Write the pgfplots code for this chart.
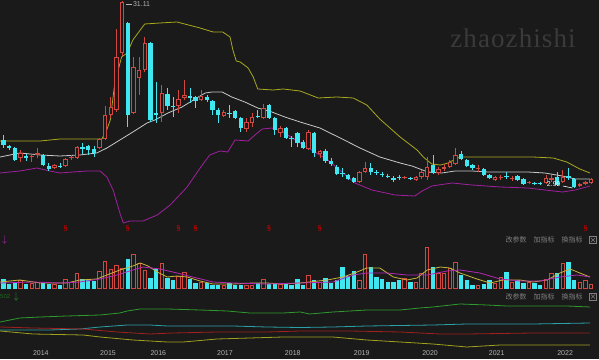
\documentclass[border=0pt]{standalone}
\usepackage{pgfplots}
\pgfplotsset{compat=1.18}
\usepackage{pgfplotstable}
\usepackage{fontspec}
\setmainfont{Liberation Sans}
\newfontfamily\wmfont{Liberation Serif}[LetterSpace=4]
\newfontfamily\cjk{Noto Sans CJK SC}
\definecolor{bg}{HTML}{1A1A1A}
\definecolor{kred}{HTML}{D04840}
\definecolor{kcyan}{HTML}{40E6F0}
\definecolor{bollup}{HTML}{A8A820}
\definecolor{bollmid}{HTML}{C8C8C8}
\definecolor{bolllo}{HTML}{A020A0}
\definecolor{vma1}{HTML}{C8B43C}
\definecolor{vma2}{HTML}{B428B4}
\definecolor{ig}{HTML}{2E9A2E}
\definecolor{ic}{HTML}{2AA0A8}
\definecolor{ir}{HTML}{A02020}
\definecolor{iy}{HTML}{A0A020}
\definecolor{divred}{HTML}{C00000}
\definecolor{ticktxt}{HTML}{B4B4B4}
\definecolor{menugray}{HTML}{808080}
\definecolor{wmgray}{HTML}{3A3A3A}

% candles: index, open, high, low, close (rising months)
\pgfplotstableread{
i o h l c
-1 9.15 10.5 9.0 10.05
3 7.5 8.7 6.9 8.25
5 7.65 8.1 6.9 7.8
6 7.95 9.0 7.5 8.25
9 6.0 6.6 5.85 6.45
11 6.3 7.5 6.15 7.35
12 7.5 7.95 7.2 7.65
13 7.5 9.3 7.35 9.15
17 9.0 10.5 8.85 10.35
18 10.35 15.3 10.2 13.95
19 13.95 16.65 13.5 15.15
20 14.7 26.85 14.4 22.65
21 23.25 31.11 22.8 30.9
23 14.25 22.65 14.1 21.15
24 19.5 22.65 16.95 20.7
25 20.7 25.65 20.4 24.75
28 14.25 18.45 12.9 17.25
31 15.3 17.7 14.25 16.35
32 16.5 19.2 16.2 16.95
35 16.2 17.7 16.05 16.8
39 13.8 14.7 13.65 14.4
43 11.85 13.5 11.4 12.9
44 12.75 14.25 12.15 13.65
46 13.5 15.6 13.35 15.0
49 11.25 12.3 10.65 12.0
54 8.85 11.7 8.7 11.4
56 8.1 8.7 7.5 8.55
63 3.9 5.55 3.75 5.4
64 5.4 6.9 5.25 6.0
71 4.5 4.8 4.35 4.65
73 4.2 4.8 4.05 4.65
74 4.65 5.7 4.35 5.4
75 4.65 7.65 4.2 6.15
77 5.25 6.15 4.95 5.85
78 5.85 6.6 5.55 6.15
79 6.15 7.2 6.0 6.9
80 6.6 9.0 6.45 7.95
84 5.85 6.45 5.4 6.0
87 4.2 4.8 4.05 4.65
88 4.5 4.95 4.2 4.65
90 4.35 4.8 4.05 4.5
93 3.75 4.05 3.6 3.9
96 3.75 4.95 3.6 4.5
97 4.2 4.95 3.9 4.5
99 3.9 5.7 3.75 4.65
102 3.3 3.75 3.15 3.6
103 3.6 4.05 3.45 3.9
104 3.75 4.5 3.6 4.35
}\upK

% falling months
\pgfplotstableread{
i o h l c
0 10.2 10.95 9.0 9.45
1 9.3 9.45 8.7 9.0
2 9.0 9.15 7.05 7.2
4 7.8 8.1 7.05 7.5
7 7.95 8.1 6.3 6.45
8 6.3 6.75 5.55 5.85
10 6.3 6.75 6.0 6.15
14 9.15 9.75 8.1 8.85
15 9.3 9.45 7.95 8.7
16 8.85 9.3 7.65 8.25
22 27.75 27.9 12.15 13.95
26 24.75 24.9 12.9 13.2
27 14.25 18.9 12.75 13.95
29 17.1 18.0 14.7 15.3
30 15.3 16.65 13.65 15.15
33 16.8 18.0 15.75 16.5
34 16.65 16.8 15.0 16.05
36 16.65 16.95 15.9 16.2
37 16.05 16.2 13.95 14.7
38 14.7 15.0 12.75 13.95
40 14.25 15.45 13.5 14.1
41 14.55 14.7 13.35 13.5
42 13.5 13.65 11.4 12.0
45 13.8 14.7 13.5 13.65
47 15.45 15.6 13.35 13.5
48 13.5 13.65 10.95 11.7
50 12.0 12.15 10.35 10.5
51 10.5 10.8 9.15 10.35
52 11.25 11.4 9.15 9.75
53 9.9 10.2 8.85 9.0
55 11.25 11.4 7.65 8.25
57 8.55 8.85 6.75 7.05
58 7.05 7.5 6.3 6.6
59 6.15 6.45 4.95 5.1
60 5.25 6.0 4.65 5.1
61 4.95 5.1 4.2 4.35
62 4.5 4.65 3.75 3.9
65 6.0 6.75 4.95 5.4
66 5.4 5.7 4.95 5.25
67 5.1 5.4 4.65 4.95
68 4.8 5.1 4.5 4.65
69 4.5 4.8 3.9 4.2
70 4.65 4.95 4.2 4.5
72 4.5 4.65 4.2 4.35
76 6.45 7.95 5.1 5.25
81 8.1 8.55 7.2 7.35
82 7.2 7.35 6.15 6.3
83 6.45 6.6 5.7 6.0
85 5.85 6.0 4.8 4.95
86 4.95 5.1 4.35 4.5
89 4.8 5.4 4.35 4.65
91 4.8 4.95 4.05 4.2
92 4.35 4.5 3.45 3.6
94 3.75 3.9 3.45 3.6
95 3.75 3.9 3.45 3.6
98 4.65 5.4 3.3 3.45
100 4.8 6.0 4.2 4.5
101 4.35 4.5 2.99 3.15
}\dnK

\pgfplotstableread{
i v
3 8.5
5 5.5
6 6.5
9 4.5
11 9.5
12 6.5
13 15.5
17 17.5
18 27.5
19 19.5
20 23.5
21 20.5
23 34.5
24 25.5
25 18.5
28 25.5
31 12.5
32 16.5
35 6.5
39 3.5
43 3.5
44 3.5
46 9.5
49 4.5
54 13.5
56 6.5
63 8.5
64 34.5
71 10.5
73 6.5
74 15.5
75 41.5
77 15.5
78 15.5
79 20.5
80 26.5
84 3.5
87 5.5
88 11.5
90 6.5
93 6.5
96 9.5
97 15.5
99 25.5
102 6.5
103 8.5
104 4.5
}\volUp

\pgfplotstableread{
i v
0 9.5
1 4.5
2 6.5
4 4.5
7 5.5
8 4.5
10 3.5
14 9.5
15 8.5
16 7.5
22 29.5
26 10.5
27 19.5
29 10.5
30 8.5
33 9.5
34 5.5
36 5.5
37 3.5
38 3.5
40 5.5
41 3.5
42 3.5
45 5.5
47 4.5
48 4.5
50 4.5
51 3.5
52 9.5
53 3.5
55 8.5
57 10.5
58 5.5
59 8.5
60 21.5
61 12.5
62 17.5
65 21.5
66 11.5
67 9.5
68 6.5
69 6.5
70 8.5
72 6.5
76 21.5
81 13.5
82 8.5
83 3.5
85 4.5
86 8.5
89 16.5
91 8.5
92 5.5
94 5.5
95 3.5
98 15.5
100 26.5
101 8.5
}\volDn

\pgfplotsset{panel/.style={scale only axis, width=599pt, xmin=-0.62, xmax=105.4, anchor=south west}}

\begin{document}
\begin{tikzpicture}
\useasboundingbox (0,0) rectangle (599pt,359pt);
\fill[bg] (0,0) rectangle (599pt,359pt);
\node[text=wmgray, font=\wmfont\fontsize{27}{27}\selectfont, inner sep=0pt] at (513pt,321pt) {zhaozhishi};

% ---------------- main panel ----------------
\begin{axis}[panel, at={(0pt,127pt)}, height=232pt, ymin=-3.6, ymax=31.2, hide axis]
\addplot[bollup, line width=0.8pt] coordinates {(-0.6,10.05) (6.5,10.05) (10,10.35) (17.4,10.35) (18.2,11.55) (18.9,13.2) (19.7,18.75) (20.9,22.65) (21.9,23.25) (22.9,25.2) (24.2,26.7) (25,27.6) (27.7,27.75) (30.7,27.9) (34.8,27.0) (37.1,26.4) (38.8,26.4) (40.1,25.65) (40.6,23.7) (41.2,22.05) (41.9,21.9) (43.3,21.0) (44.2,19.65) (45,17.85) (47.7,17.7) (49.5,17.85) (52.5,17.55) (55.7,16.5) (59,16.65) (61.9,16.5) (64.3,15.45) (66.6,13.35) (70.2,10.65) (73.2,8.7) (74.3,7.65) (75.8,6.6) (77.3,6.45) (78.7,6.75) (80.3,7.5) (81.3,7.65) (87.9,7.65) (93.7,7.65) (97.3,7.5) (99.7,6.9) (102,5.85) (103.8,5.25)};
\addplot[bollmid, line width=0.8pt] coordinates {(-0.6,7.65) (2.9,8.25) (6.5,7.95) (10,7.8) (13.5,7.95) (16.5,8.25) (18.3,9.0) (20.6,10.2) (22.9,11.4) (25.4,12.75) (26.8,13.2) (29.1,14.25) (31.6,15.15) (33.9,16.35) (35.7,17.25) (36.9,17.4) (38.7,17.4) (40.4,16.65) (42.7,15.9) (45,15.0) (47.5,14.4) (49.8,13.65) (52.5,12.9) (56,12.0) (59.6,10.5) (63.1,9.0) (66.6,7.65) (70.2,6.75) (72.3,6.3) (75.1,5.4) (77.6,5.25) (79.9,5.55) (82.9,5.55) (85.8,5.4) (87.9,5.4) (92.8,5.4) (95.8,5.25) (98.9,4.8) (101.2,4.35) (103.8,4.35)};
\addplot[bolllo, line width=0.8pt] coordinates {(-0.6,5.25) (2.9,5.55) (5.9,6.0) (8.2,5.55) (10,5.25) (12.3,5.4) (14.8,5.55) (17.1,5.55) (18.3,4.65) (19.4,2.7) (20.6,-0.75) (21.2,-2.25) (22.4,-1.95) (24.7,-1.95) (27.2,-1.05) (29.5,0.45) (32.5,3.15) (34.8,6.0) (36.5,7.95) (38.3,8.55) (39.7,8.4) (40.97,10.2) (43.3,10.05) (44.5,10.95) (45.8,11.85) (47.5,12.0) (49.3,11.55) (51.1,10.5) (52.5,9.75) (55.1,8.4) (57.4,7.2) (59.9,5.4) (62.2,3.75) (65.2,2.7) (69.3,1.95) (72.8,1.8) (74.1,2.55) (75.8,3.3) (79.4,3.75) (82.9,3.45) (87.9,3.15) (92.8,3.0) (98.9,2.4) (101.2,2.7) (103.8,3.3)};
% wicks
\addplot[kred, line width=0.8pt, quiver={u=0,v=\thisrow{h}-\thisrow{l}}] table[x=i,y=l]{\upK};
\addplot[kcyan, line width=0.8pt, quiver={u=0,v=\thisrow{h}-\thisrow{l}}] table[x=i,y=l]{\dnK};
% bodies
\addplot[kred, line width=4.4pt, quiver={u=0,v=\thisrow{c}-\thisrow{o}}] table[x=i,y=o]{\upK};
\addplot[bg, line width=2.4pt, quiver={u=0,v={max(\thisrow{c}-\thisrow{o}-0.3,0)}}] table[x=i,y expr=\thisrow{o}+0.15]{\upK};
\addplot[kcyan, line width=4.4pt, quiver={u=0,v=\thisrow{o}-\thisrow{c}}] table[x=i,y=c]{\dnK};
% dividend markers
\addplot[divred, only marks, mark=text, text mark={\S}, text mark as node=true, text mark style={font=\fontsize{7}{7}\selectfont\bfseries}] coordinates {(11,-3) (22,-3) (31,-3) (34,-3) (47,-3) (56,-3) (103,-3)};
\draw[ticktxt, line width=0.5pt] (axis cs:21.6,30.6) -- (axis cs:22.8,30.6);
\node[text=ticktxt, font=\fontsize{7}{7}\selectfont, anchor=west, inner sep=0pt] at (axis cs:22.9,30.6) {31.11};
\node[text=white, font=\fontsize{7}{7}\selectfont, inner sep=0pt] at (axis cs:97.4,3.6) {2.99};
\draw[white, line width=0.6pt] (axis cs:99.0,3.3) -- (axis cs:100.7,3.0);
\end{axis}

% ---------------- volume panel ----------------
\begin{axis}[panel, at={(0pt,70pt)}, height=56pt, ymin=-0.5, ymax=55.5, hide axis]
\addplot[kred, line width=4.4pt, quiver={u=0,v=\thisrow{v}}] table[x=i,y expr=0]{\volUp};
\addplot[bg, line width=2.4pt, quiver={u=0,v={max(\thisrow{v}-2,0)}}] table[x=i,y expr=1]{\volUp};
\addplot[kcyan, line width=4.4pt, quiver={u=0,v=\thisrow{v}}] table[x=i,y expr=0]{\volDn};
\addplot[vma1, line width=0.8pt] coordinates {(-0.6,6.5) (2.9,8.5) (6.5,5.5) (11.2,5.5) (13.5,8.5) (16.5,9.5) (18.3,13.5) (20.6,18.5) (22.9,22.5) (24.2,25.5) (25.6,22.5) (27.2,16.5) (29,11.5) (30.7,12.5) (32.5,11.5) (34.8,7.5) (37.1,4.5) (40.6,4.5) (44.2,5.5) (46.6,5.5) (49.5,4.5) (52.5,5.5) (57.3,8.5) (60.1,11.5) (62.6,16.5) (64.3,20.5) (66.6,20.5) (69,11.5) (71.4,8.5) (73.2,10.5) (75,18.5) (77.3,21.5) (79,20.5) (80.8,15.5) (83.8,9.5) (86.1,5.5) (88.4,8.5) (91.4,8.5) (93.7,6.5) (96.2,8.5) (98.5,15.5) (100.3,19.5) (102,15.5) (103.8,11.5)};
\addplot[vma2, line width=0.8pt] coordinates {(-0.6,5.5) (5.2,6.5) (10,5.5) (13.5,6.5) (17.1,9.5) (20.1,13.5) (22.9,18.5) (24.7,21.5) (27.7,19.5) (30.7,15.5) (33.5,11.5) (37.1,6.5) (40.6,5.5) (46.6,4.5) (52.5,5.5) (58.3,6.5) (61.9,13.5) (64.3,15.5) (67.9,15.5) (71.4,13.5) (75,13.5) (78.5,17.5) (80.8,18.5) (84.3,15.5) (87.9,9.5) (91.4,7.5) (94.9,7.5) (98.5,11.5) (101.5,13.5) (103.8,11.5)};
\end{axis}

% ---------------- indicator panel ----------------
\begin{axis}[panel, at={(0pt,11pt)}, height=58pt, ymin=0, ymax=58,
  axis line style={draw=none}, major tick length=0pt, ytick=\empty,
  xtick={6.6,18.5,27.4,39.2,51.2,63.4,75.5,87.3,99.4},
  xticklabels={2014,2015,2016,2017,2018,2019,2020,2021,2022},
  xticklabel style={font=\fontsize{7}{7}\selectfont, text=ticktxt, anchor=center, yshift=-5pt, inner sep=0pt}]
\addplot[ig, line width=0.8pt] coordinates {(-0.6,26) (2.9,30) (6.5,31) (11.2,32) (17.1,33) (20.6,35) (21.9,37) (24.2,39) (29,39) (34.8,38) (39.6,37) (43.6,35) (49.5,35) (52.5,36) (54.2,34) (58.3,36) (64.3,38) (70.2,38) (73.7,40) (76,41) (80.8,44) (85.6,43) (89.1,42) (93.7,42) (99.7,42) (103.8,41)};
\addplot[ic, line width=0.8pt] coordinates {(-0.6,18) (8.2,18) (13.5,19) (17.1,21) (21.9,23) (25.9,23) (29,22) (40.6,22) (46.6,21) (52.5,20.5) (58.3,21) (64.3,22) (76,23) (82,24) (93.7,24) (103.8,25)};
\addplot[ir, line width=0.8pt] coordinates {(-0.6,21) (5.2,20) (14.1,19) (20.1,16) (25.9,14) (30,15) (37.8,16) (46.6,16) (52.5,17) (61.3,17) (70.2,16) (77.3,14) (82,14) (93.7,15) (103.8,15)};
\addplot[iy, line width=0.8pt] coordinates {(-0.6,17) (5.2,14) (14.1,13) (17.1,11) (22.9,8) (29,6) (31.8,6) (37.8,9) (43.6,10) (49.5,11) (58.3,11) (64.3,8) (70.2,6) (76,4) (82,1) (87.9,3) (103.8,3)};
\end{axis}

% ---------------- panel texts ----------------
\node[text=vma2, inner sep=0pt] at (4.5pt,119pt) {$\downarrow$};
\node[text=ig!70!black, font=\fontsize{6}{6}\selectfont, inner sep=0pt, anchor=west] at (0pt,62.5pt) {502};
\node[text=ig, inner sep=0pt] at (16pt,62.5pt) {$\downarrow$};
\foreach \yy in {119pt,62.5pt}{
  \node[text=menugray, font=\cjk\fontsize{7}{7}\selectfont, inner sep=0pt] at (516pt,\yy) {改参数};
  \node[text=menugray, font=\cjk\fontsize{7}{7}\selectfont, inner sep=0pt] at (544pt,\yy) {加指标};
  \node[text=menugray, font=\cjk\fontsize{7}{7}\selectfont, inner sep=0pt] at (572pt,\yy) {换指标};
  \draw[menugray, line width=0.5pt] (589.5pt,\yy-3.5pt) rectangle (596.5pt,\yy+3.5pt);
  \draw[menugray, line width=0.5pt] (591pt,\yy-2pt) -- (595pt,\yy+2pt) (591pt,\yy+2pt) -- (595pt,\yy-2pt);
}
\end{tikzpicture}
\end{document}
